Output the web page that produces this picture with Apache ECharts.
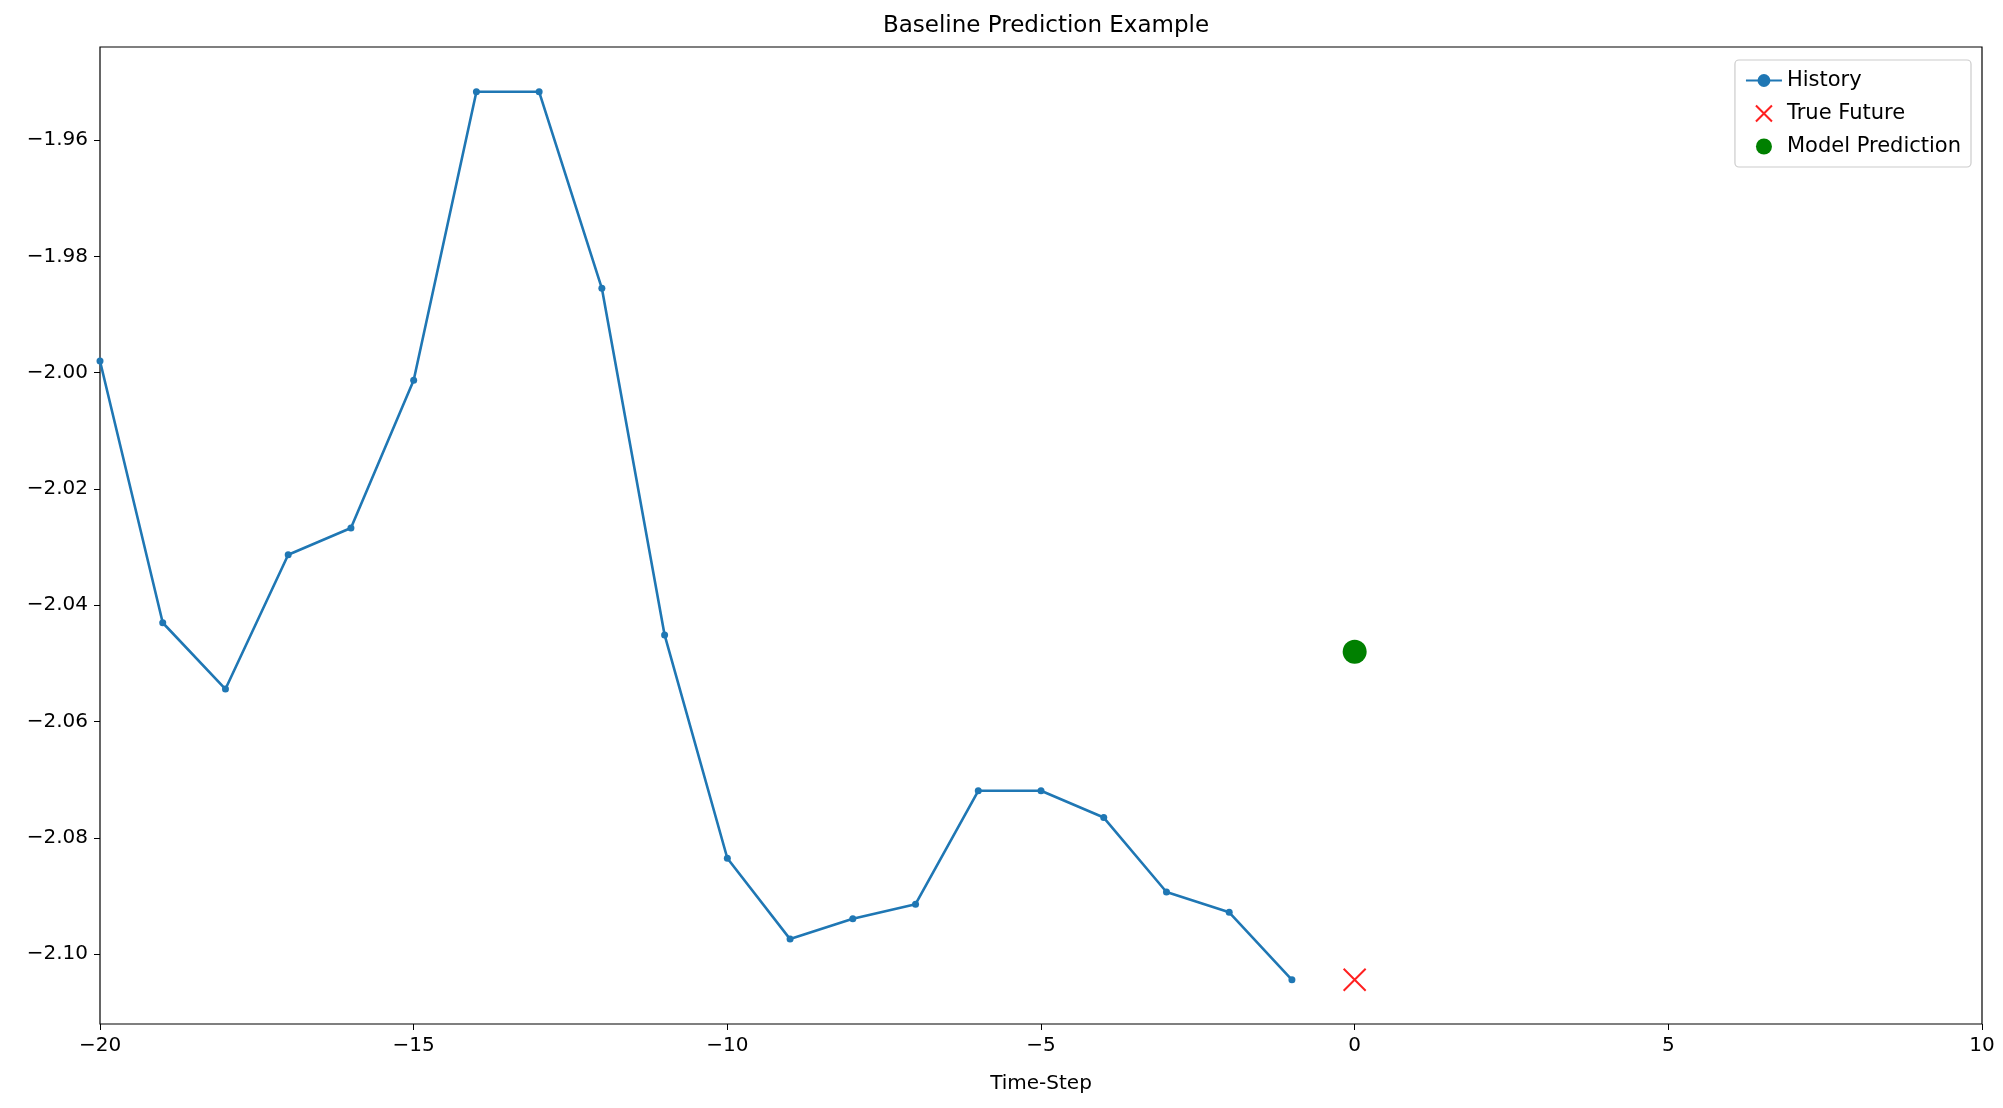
<!DOCTYPE html>
<html>
<head>
    <meta charset="UTF-8">
    <title>Baseline Prediction Example</title>
    <script src="https://cdn.jsdelivr.net/npm/echarts@6/dist/echarts.min.js"></script>
    <style>
        body { margin: 0; background: #fff; }
        #chart { width: 2003px; height: 1108px; }
    </style>
</head>
<body>
    <div id="chart"></div>
    <script>
        // values
        var steps = [-20, -19, -18, -17, -16, -15, -14, -13, -12, -11, -10, -9, -8, -7, -6, -5, -4, -3, -2, -1];
        var historyValues = [-1.998, -2.043, -2.0544, -2.0313, -2.0267, -2.0013, -1.9517, -1.9517, -1.9855, -2.0451,
                             -2.0835, -2.0974, -2.0939, -2.0914, -2.0719, -2.0719, -2.0765, -2.0893, -2.0928, -2.1044];
        var trueFuture = [[0, -2.1044]];
        var prediction = [[0, -2.048]];
        var yTicks = [-1.96, -1.98, -2.00, -2.02, -2.04, -2.06, -2.08, -2.10];

        function minus(s) { return s.replace('-', '\u2212'); }

        var font = 'DejaVu Sans';
        var chart = echarts.init(document.getElementById('chart'), null, {renderer: 'canvas'});

        chart.setOption({
            animation: false,
            backgroundColor: '#fff',
            textStyle: {fontFamily: font},
            title: {
                text: 'Baseline Prediction Example',
                left: 1041, top: 10, textAlign: 'center',
                textStyle: {fontFamily: font, fontWeight: 'normal', fontSize: 23, color: '#000'}
            },
            grid: {
                left: 100, right: 21, top: 47, bottom: 84,
                show: true, borderColor: '#000', borderWidth: 1.2
            },
            legend: {
                orient: 'vertical', right: 32, top: 60,
                padding: [10, 10, 10, 10],
                itemGap: 12, itemWidth: 36, itemHeight: 16,
                borderColor: '#ccc', borderWidth: 1.2, borderRadius: 4,
                backgroundColor: '#fff',
                textStyle: {fontFamily: font, fontSize: 21, color: '#000'},
                data: ['History', 'True Future', 'Model Prediction']
            },
            xAxis: {
                type: 'value', min: -20, max: 10, interval: 5,
                name: 'Time-Step', nameLocation: 'middle', nameGap: 50,
                nameTextStyle: {fontFamily: font, fontSize: 20, color: '#000'},
                splitLine: {show: false},
                axisLine: {show: false, onZero: false},
                axisTick: {show: true, inside: false, length: 6, lineStyle: {color: '#000'}},
                axisLabel: {fontFamily: font, fontSize: 20, color: '#000', margin: 12,
                    formatter: function (v) { return minus(String(v)); }}
            },
            yAxis: {
                type: 'value', min: -2.112, max: -1.944,
                splitLine: {show: false},
                axisLine: {show: false, onZero: false},
                axisTick: {show: true, length: 6, lineStyle: {color: '#000'}, customValues: yTicks},
                axisLabel: {fontFamily: font, fontSize: 20, color: '#000', margin: 12, customValues: yTicks,
                    formatter: function (v) { return minus(v.toFixed(2)); }}
            },
            series: [
                {
                    name: 'History', type: 'line',
                    data: steps.map(function (s, i) { return [s, historyValues[i]]; }),
                    symbol: 'circle', symbolSize: 7,
                    lineStyle: {color: '#1f77b4', width: 2.6},
                    itemStyle: {color: '#1f77b4'}
                },
                {
                    name: 'True Future', type: 'scatter', data: trueFuture,
                    symbol: 'path://M0,0L10,10M10,0L0,10', symbolSize: 22,
                    itemStyle: {color: 'rgba(0,0,0,0)', borderColor: '#ff2020', borderWidth: 2, opacity: 1}
                },
                {
                    name: 'Model Prediction', type: 'scatter', data: prediction,
                    symbol: 'circle', symbolSize: 24,
                    itemStyle: {color: '#008000', opacity: 1}
                }
            ]
        });
    </script>
</body>
</html>
